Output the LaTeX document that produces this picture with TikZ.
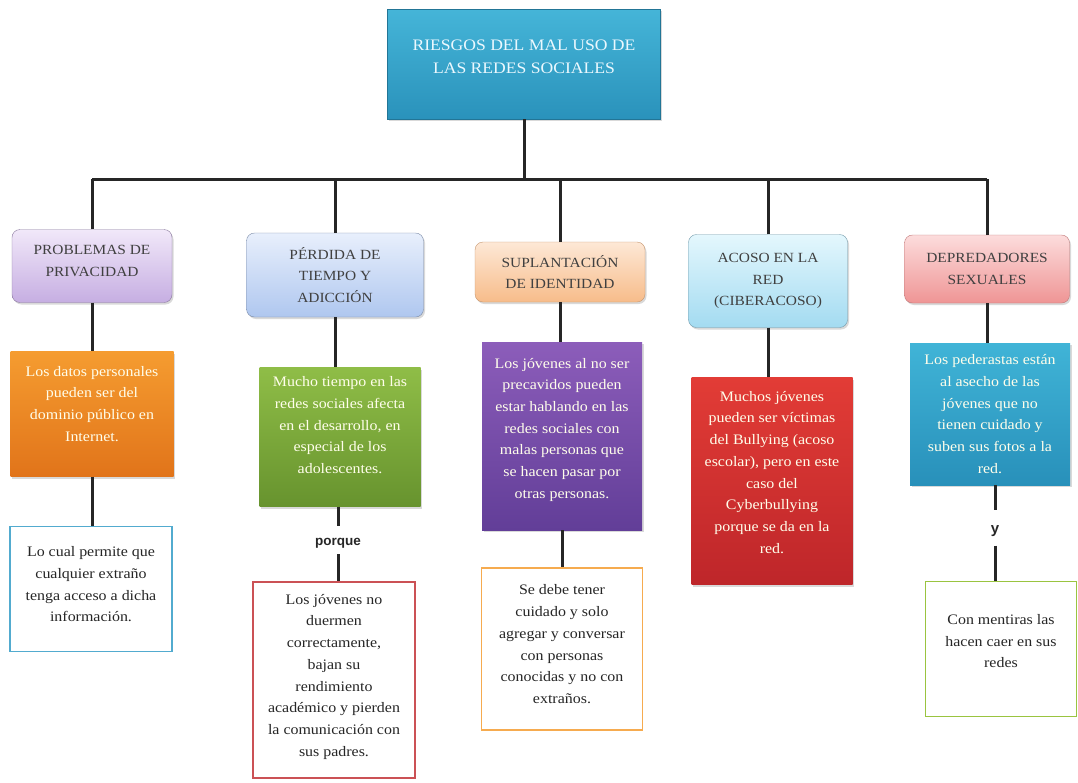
\documentclass[tikz,border=0pt]{standalone}
\usepackage{fontspec}
\setmainfont{Liberation Serif}[FakeStretch=1.1]
\newfontfamily\etiqueta{Liberation Sans}
\usetikzlibrary{shadows}

\definecolor{tituloA}{HTML}{45B5D8}
\definecolor{tituloB}{HTML}{2A92BB}
\definecolor{lilaA}{HTML}{F1E8F9}
\definecolor{lilaB}{HTML}{C6AEE2}
\definecolor{azulA}{HTML}{E8EFFC}
\definecolor{azulB}{HTML}{AFC7EF}
\definecolor{meloA}{HTML}{FDE8D6}
\definecolor{meloB}{HTML}{F7BC8A}
\definecolor{celA}{HTML}{E4F7FD}
\definecolor{celB}{HTML}{A3DBF1}
\definecolor{rosaA}{HTML}{FCDCDC}
\definecolor{rosaB}{HTML}{EF9595}
\definecolor{naranjaA}{HTML}{F59C30}
\definecolor{naranjaB}{HTML}{E1741A}
\definecolor{verdeA}{HTML}{8FBD47}
\definecolor{verdeB}{HTML}{67932E}
\definecolor{moradoA}{HTML}{8C5DBA}
\definecolor{moradoB}{HTML}{623E98}
\definecolor{rojoA}{HTML}{E23C36}
\definecolor{rojoB}{HTML}{BE262A}
\definecolor{tealA}{HTML}{40B4D7}
\definecolor{tealB}{HTML}{2890BA}

\begin{document}
\begin{tikzpicture}[x=1pt,y=-1pt,
  conector/.style={line width=3pt, black!85},
  sombra/.style={drop shadow={opacity=0.3, shadow xshift=1.5pt, shadow yshift=-2pt}},
  titulo/.style={rectangle, sombra, draw=tituloB!80!black, top color=tituloA, bottom color=tituloB,
    text=cyan!8, align=center, font=\fontsize{16}{23}\selectfont, inner sep=0pt},
  cabecera/.style={rectangle, rounded corners=8pt, sombra, align=center, text=black!75,
    font=\fontsize{14}{21.7}\selectfont, inner sep=0pt},
  cuadro/.style={rectangle, sombra, align=center, text=white!92!yellow,
    font=\fontsize{14.5}{21.7}\selectfont, inner sep=0pt},
  nota/.style={rectangle, fill=white, line width=1.8pt, align=center, text=black!85,
    font=\fontsize{14.5}{21.7}\selectfont, inner sep=0pt},
  enlace/.style={font=\etiqueta\bfseries\fontsize{13.5}{15}\selectfont, text=black!85, inner sep=1pt}
]
\useasboundingbox (0,0) rectangle (1078,782);

% titulo
\node[titulo, minimum width=273pt, minimum height=110pt] (raiz) at (524,64)
  {RIESGOS DEL MAL USO DE\\LAS REDES SOCIALES\\[-8pt]};

% cabeceras
\node[cabecera, draw=lilaB!70!black, top color=lilaA, bottom color=lilaB,
  minimum width=160pt, minimum height=73pt] (h1) at (92,266) {PROBLEMAS DE\\PRIVACIDAD\\[-12pt]};
\node[cabecera, draw=azulB!70!black, top color=azulA, bottom color=azulB,
  minimum width=177pt, minimum height=84pt] (h2) at (335,275) {PÉRDIDA DE\\TIEMPO Y\\ADICCIÓN};
\node[cabecera, draw=meloB!80!black, top color=meloA, bottom color=meloB,
  minimum width=170pt, minimum height=60pt] (h3) at (560,272) {SUPLANTACIÓN\\DE IDENTIDAD};
\node[cabecera, draw=celB!70!black, top color=celA, bottom color=celB,
  minimum width=159pt, minimum height=93pt] (h4) at (768,281) {ACOSO EN LA\\RED\\(CIBERACOSO)};
\node[cabecera, draw=rosaB!80!black, top color=rosaA, bottom color=rosaB,
  minimum width=165pt, minimum height=68pt] (h5) at (987,269) {DEPREDADORES\\SEXUALES};

% cuadros de color
\node[cuadro, top color=naranjaA, bottom color=naranjaB, minimum width=163pt, minimum height=125pt]
  (c1) at (92,414) {Los datos personales\\pueden ser del\\dominio público en\\Internet.\\[-1pt]};
\node[cuadro, top color=verdeA, bottom color=verdeB, minimum width=161pt, minimum height=139pt]
  (c2) at (340,437) {Mucho tiempo en las\\redes sociales afecta\\en el desarrollo, en\\especial de los\\adolescentes.\\[2pt]};
\node[cuadro, top color=moradoA, bottom color=moradoB, minimum width=160pt, minimum height=188pt]
  (c3) at (562,436) {Los jóvenes al no ser\\precavidos pueden\\estar hablando en las\\redes sociales con\\malas personas que\\se hacen pasar por\\otras personas.\\[-6pt]};
\node[cuadro, top color=rojoA, bottom color=rojoB, minimum width=161pt, minimum height=207pt]
  (c4) at (772,481) {Muchos jóvenes\\pueden ser víctimas\\del Bullying (acoso\\escolar), pero en este\\caso del\\Cyberbullying\\porque se da en la\\red.\\[-4pt]};
\node[cuadro, top color=tealA, bottom color=tealB, minimum width=160pt, minimum height=142pt]
  (c5) at (990,414) {Los pederastas están\\al asecho de las\\jóvenes que no\\tienen cuidado y\\suben sus fotos a la\\red.};

% notas de abajo
\node[nota, draw=cyan!55!teal!80, minimum width=162pt, minimum height=125pt]
  (n1) at (91,589) {Lo cual permite que\\cualquier extraño\\tenga acceso a dicha\\información.\\[-12pt]};
\node[nota, draw=rojoB!80!white, minimum width=162pt, minimum height=196pt]
  (n2) at (334,680) {Los jóvenes no\\duermen\\correctamente,\\bajan su\\rendimiento\\académico y pierden\\la comunicación con\\sus padres.\\[-12pt]};
\node[nota, draw=naranjaA!85!white, minimum width=161pt, minimum height=162pt]
  (n3) at (562,649) {Se debe tener\\cuidado y solo\\agregar y conversar\\con personas\\conocidas y no con\\extraños.\\[-12pt]};
\node[nota, draw=verdeA!90!yellow, minimum width=151pt, minimum height=135pt]
  (n5) at (1001,649) {Con mentiras las\\hacen caer en sus\\redes\\[-6pt]};

% palabras de enlace
\node[enlace] (porque) at (338,543) {porque};
\node[enlace, font=\etiqueta\bfseries\fontsize{15}{16}\selectfont] (y) at (995,531) {y};

% conectores
\coordinate (barra) at (0,179);
\draw[conector] (raiz.south) -- (raiz.south |- barra);
\draw[conector] (h1.north |- barra) -- (h5.north |- barra);
\foreach \i in {1,...,5}
  \draw[conector] (h\i.north) -- (h\i.north |- barra);
\foreach \i in {1,...,5}
  \draw[conector] (h\i.south) -- (h\i.south |- c\i.north);
\draw[conector] (c1.south) -- (c1.south |- n1.north);
\draw[conector] (c3.south) -- (c3.south |- n3.north);
\draw[conector] (porque |- c2.south) -- ([yshift=11pt]porque.north);
\draw[conector] ([yshift=-5pt]porque.south) -- (porque |- n2.north);
\draw[conector] (y |- c5.south) -- ([yshift=14pt]y.north);
\draw[conector] ([yshift=-8pt]y.south) -- (y |- n5.north);
\end{tikzpicture}
\end{document}
